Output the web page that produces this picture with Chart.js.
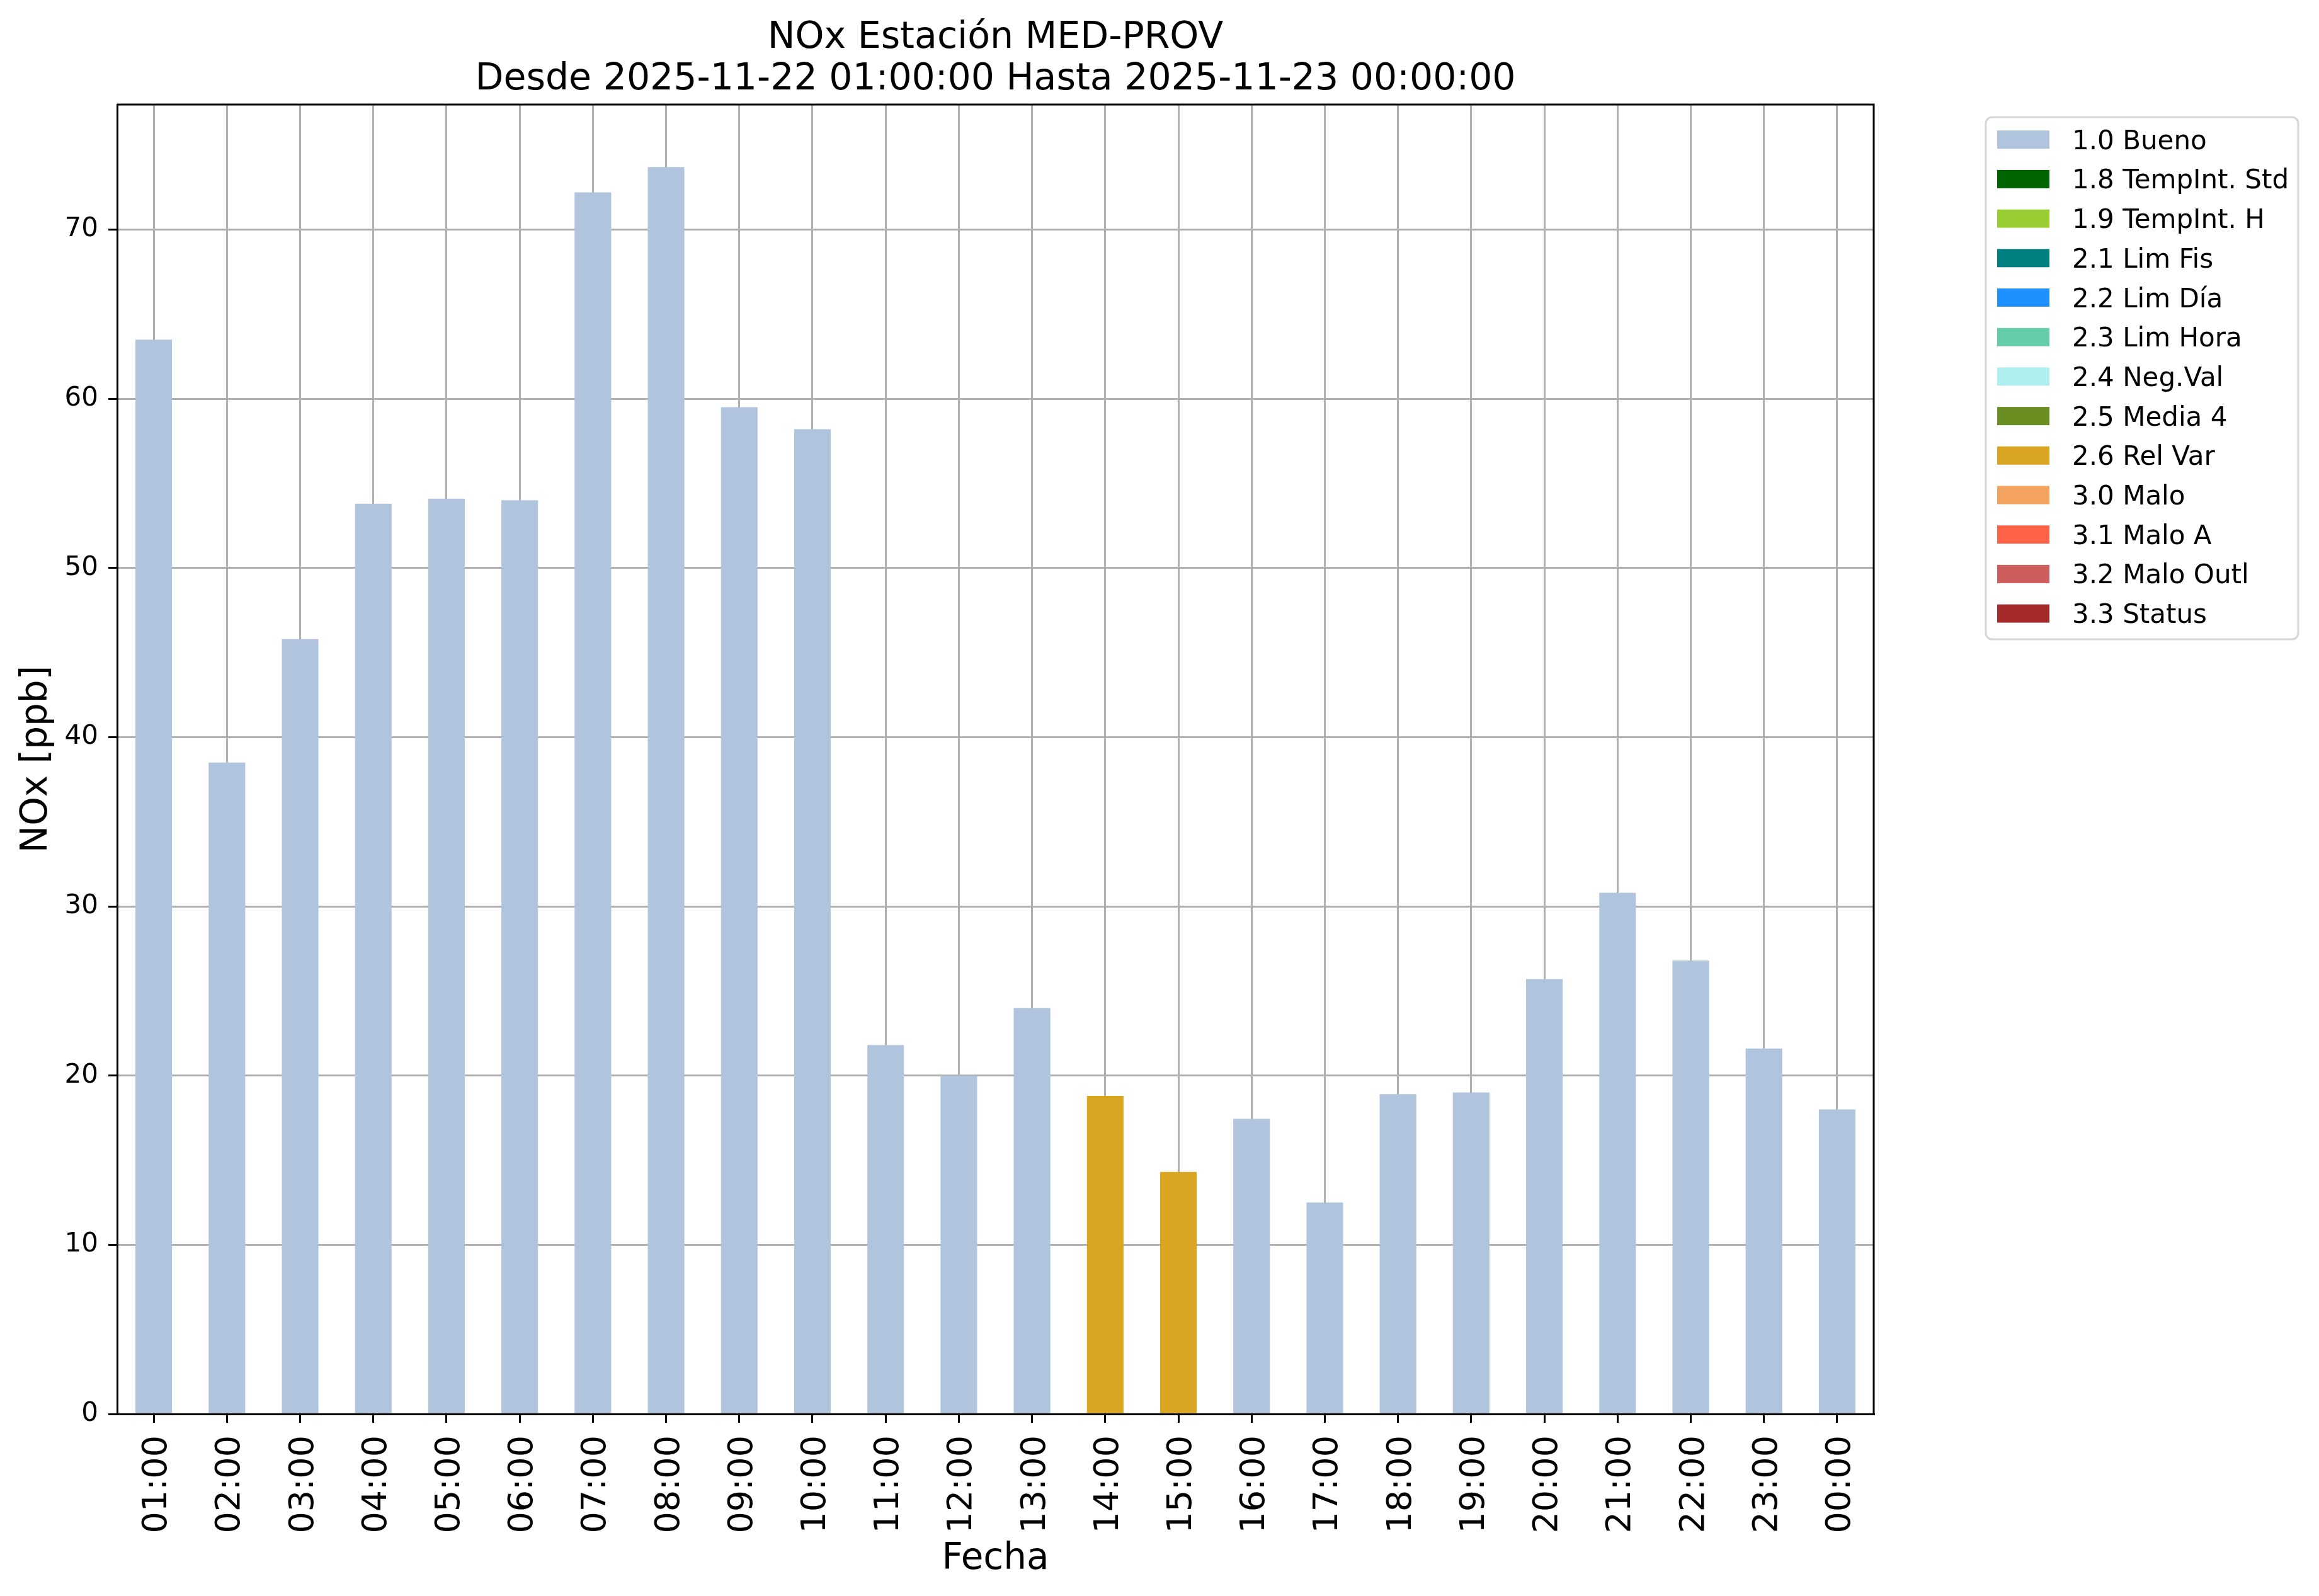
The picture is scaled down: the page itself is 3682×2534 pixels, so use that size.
<!DOCTYPE html>
<html>
<head>
<meta charset="utf-8">
<script src="https://cdn.jsdelivr.net/npm/chart.js@4.4.1/dist/chart.umd.min.js"></script>
<style>
  body { margin: 0; background: #fff; }
  canvas { display: block; }
</style>
</head>
<body>
<canvas id="noxChart" width="3682" height="2534"></canvas>
<script>
// NOx hourly data, MED-PROV station
const hours = ['01:00', '02:00', '03:00', '04:00', '05:00', '06:00', '07:00', '08:00',
    '09:00', '10:00', '11:00', '12:00', '13:00', '14:00', '15:00', '16:00',
    '17:00', '18:00', '19:00', '20:00', '21:00', '22:00', '23:00', '00:00'];
const noxValues = [63.5, 38.5, 45.8, 53.8, 54.1, 54.0, 72.2, 73.7,
    59.5, 58.2, 21.8, 20.0, 24.0, 18.8, 14.3, 17.45,
    12.5, 18.9, 19.0, 25.7, 30.8, 26.8, 21.6, 18.0];
const noxFlags = ['1.0', '1.0', '1.0', '1.0', '1.0', '1.0', '1.0', '1.0',
    '1.0', '1.0', '1.0', '1.0', '1.0', '2.6', '2.6', '1.0',
    '1.0', '1.0', '1.0', '1.0', '1.0', '1.0', '1.0', '1.0'];

// validation flags (legend)
const flagCodes = ['1.0', '1.8', '1.9', '2.1', '2.2', '2.3', '2.4', '2.5', '2.6', '3.0', '3.1', '3.2', '3.3'];
const flagNames = ['Bueno', 'TempInt. Std', 'TempInt. H', 'Lim Fis', 'Lim Día', 'Lim Hora',
    'Neg.Val', 'Media 4', 'Rel Var', 'Malo', 'Malo A', 'Malo Outl', 'Status'];
const flagColors = ['#b0c4de', '#006400', '#9acd32', '#008080', '#1e90ff', '#66cdaa',
    '#afeeee', '#6b8e23', '#daa520', '#f4a460', '#ff6347', '#cd5c5c', '#a52a2a'];

const yTicks = [0, 10, 20, 30, 40, 50, 60, 70];
const yMax = 77.39;

const titleLines = ['NOx Estación MED-PROV', 'Desde 2025-11-22 01:00:00 Hasta 2025-11-23 00:00:00'];
const xTitle = 'Fecha';
const yTitle = 'NOx [ppb]';

const FONT = '"DejaVu Sans", sans-serif';

// one dataset per flag, bars only where the hour has that flag
const datasets = flagCodes.map((code, i) => ({
    label: code + ' ' + flagNames[i],
    data: noxValues.map((v, j) => noxFlags[j] === code ? v : null),
    backgroundColor: flagColors[i],
    barPercentage: 0.5,
    categoryPercentage: 1.0,
    grouped: false
}));

// titles, axis labels, top/right frame
const annotations = {
    id: 'annotations',
    afterDraw(chart) {
        const { ctx, chartArea: a } = chart;
        const cx = (a.left + a.right) / 2;
        ctx.save();
        ctx.strokeStyle = '#000';
        ctx.lineWidth = 3;
        ctx.beginPath();
        ctx.moveTo(a.left, a.top);
        ctx.lineTo(a.right, a.top);
        ctx.lineTo(a.right, a.bottom);
        ctx.stroke();

        ctx.fillStyle = '#000';
        ctx.textAlign = 'center';
        ctx.textBaseline = 'alphabetic';
        ctx.font = '58.5px ' + FONT;
        ctx.fillText(titleLines[0], cx, 76);
        ctx.fillText(titleLines[1], cx, 142);
        ctx.font = '58px ' + FONT;
        ctx.fillText(xTitle, cx, 2491);
        ctx.translate(74, (a.top + a.bottom) / 2);
        ctx.rotate(-Math.PI / 2);
        ctx.fillText(yTitle, 0, 0);
        ctx.restore();
    }
};

// matplotlib style legend box outside the axes
const boxLegend = {
    id: 'boxLegend',
    afterDraw(chart) {
        const ctx = chart.ctx;
        ctx.save();
        ctx.fillStyle = 'rgba(255,255,255,0.8)';
        ctx.strokeStyle = '#d6d6d6';
        ctx.lineWidth = 3;
        ctx.beginPath();
        ctx.roundRect(3153, 186, 496, 829, 10);
        ctx.fill();
        ctx.stroke();
        ctx.font = '42px ' + FONT;
        ctx.textAlign = 'left';
        ctx.textBaseline = 'alphabetic';
        chart.data.datasets.forEach((ds, i) => {
            const cy = 221.7 + i * 62.7;
            ctx.fillStyle = ds.backgroundColor;
            ctx.fillRect(3171, cy - 14.5, 83, 29);
            ctx.fillStyle = '#000';
            ctx.fillText(ds.label, 3290, cy + 15);
        });
        ctx.restore();
    }
};

const ctx = document.getElementById('noxChart').getContext('2d');
new Chart(ctx, {
    type: 'bar',
    data: {
        labels: hours,
        datasets: datasets
    },
    options: {
        responsive: false,
        devicePixelRatio: 1,
        animation: false,
        layout: {
            padding: { left: 0, top: 166, right: 707, bottom: 0 }
        },
        plugins: {
            legend: { display: false },
            tooltip: { enabled: false },
            title: { display: false }
        },
        scales: {
            x: {
                z: 1,
                offset: true,
                grid: {
                    offset: false,
                    color: '#b0b0b0',
                    lineWidth: 3,
                    tickLength: 14,
                    tickColor: '#000',
                    tickWidth: 3
                },
                border: { color: '#000', width: 3 },
                ticks: {
                    autoSkip: false,
                    maxRotation: 90,
                    minRotation: 90,
                    padding: 20,
                    labelOffset: 6,
                    color: '#000',
                    font: { family: FONT, size: 54 }
                },
                afterFit(scale) { scale.height = 289; }
            },
            y: {
                z: 1,
                min: 0,
                max: yMax,
                grid: {
                    color: '#b0b0b0',
                    lineWidth: 3,
                    tickLength: 14,
                    tickColor: '#000',
                    tickWidth: 3
                },
                border: { color: '#000', width: 3 },
                ticks: {
                    padding: 16,
                    color: '#000',
                    font: { family: FONT, size: 42 }
                },
                afterBuildTicks(scale) {
                    scale.ticks = yTicks.map(v => ({ value: v }));
                },
                afterFit(scale) { scale.width = 186; }
            }
        }
    },
    plugins: [annotations, boxLegend]
});
</script>
</body>
</html>
